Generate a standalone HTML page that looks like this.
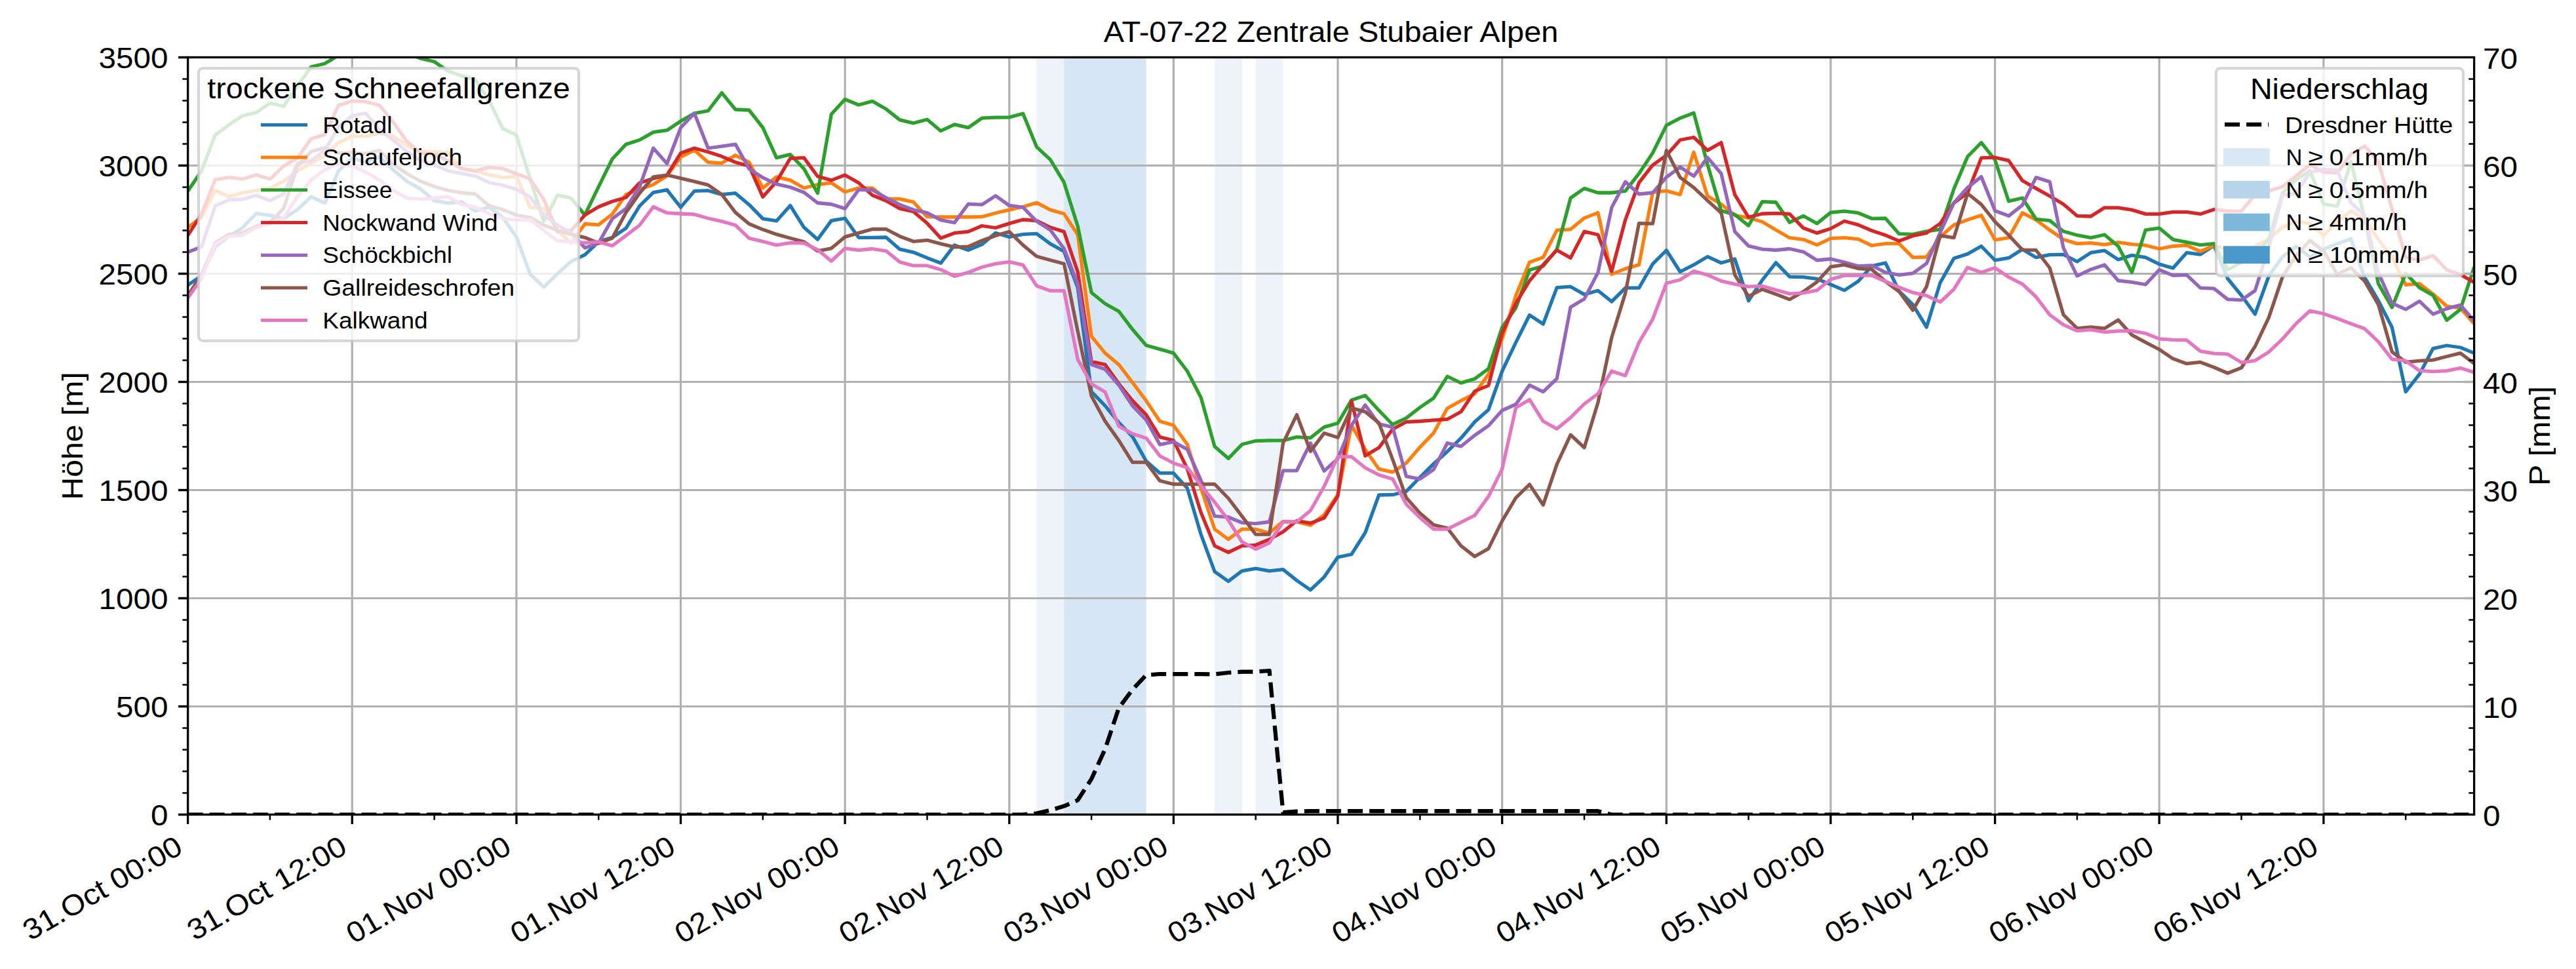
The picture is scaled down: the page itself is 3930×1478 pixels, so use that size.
<!DOCTYPE html>
<html><head><meta charset="utf-8"><title>chart</title><style>html,body{margin:0;padding:0;background:#fff}svg{display:block}</style></head><body>
<svg width="3930" height="1478" viewBox="0 0 3930 1478" font-family="'Liberation Sans', sans-serif">
<rect width="3930" height="1478" fill="#fff"/>
<defs><clipPath id="c"><rect x="286.6" y="87.45" width="3488.0" height="1155.0"/></clipPath></defs>
<rect x="1581.5" y="87.45" width="41.8" height="1155.0" fill="#eef3fa"/>
<rect x="1623.3" y="87.45" width="125.3" height="1155.0" fill="#d7e6f4"/>
<rect x="1853.1" y="87.45" width="41.8" height="1155.0" fill="#eef3fa"/>
<rect x="1915.7" y="87.45" width="41.8" height="1155.0" fill="#eef3fa"/>
<path d="M286.6 87.45V1242.45M537.2 87.45V1242.45M787.9 87.45V1242.45M1038.5 87.45V1242.45M1289.1 87.45V1242.45M1539.8 87.45V1242.45M1790.4 87.45V1242.45M2041.0 87.45V1242.45M2291.7 87.45V1242.45M2542.3 87.45V1242.45M2792.9 87.45V1242.45M3043.6 87.45V1242.45M3294.2 87.45V1242.45M3544.9 87.45V1242.45M286.6 1242.5H3774.6M286.6 1077.5H3774.6M286.6 912.5H3774.6M286.6 747.5H3774.6M286.6 582.5H3774.6M286.6 417.5H3774.6M286.6 252.5H3774.6M286.6 87.5H3774.6" stroke="#b0b0b0" stroke-width="3.2" fill="none"/>
<g clip-path="url(#c)" fill="none" stroke-width="5.3" stroke-linejoin="round" stroke-linecap="butt">
<polyline points="286.6,434.9 307.5,420.8 328.4,376.5 349.3,360.7 370.1,347.2 391.0,325.7 411.9,328.4 432.8,333.3 453.7,319.8 474.6,300.0 495.5,309.9 516.3,260.7 537.2,241.2 558.1,247.2 579.0,239.2 599.9,259.0 620.8,276.5 641.7,288.4 662.6,305.9 683.4,309.9 704.3,307.9 725.2,321.8 746.1,315.8 767.0,331.6 787.9,361.4 808.8,418.1 829.6,437.9 850.5,417.5 871.4,398.6 892.3,388.7 913.2,368.9 934.1,362.3 955.0,348.1 975.8,314.2 996.7,293.7 1017.6,289.7 1038.5,316.1 1059.4,291.4 1080.3,290.7 1101.2,296.7 1122.0,294.7 1142.9,312.2 1163.8,333.6 1184.7,336.9 1205.6,313.5 1226.5,346.8 1247.4,365.3 1268.3,336.6 1289.1,333.0 1310.0,362.3 1330.9,362.3 1351.8,362.0 1372.7,380.2 1393.6,384.8 1414.5,393.4 1435.3,401.3 1456.2,373.9 1477.1,381.5 1498.0,372.9 1518.9,355.4 1539.8,361.4 1560.7,357.4 1581.5,356.4 1602.4,371.9 1623.3,383.5 1644.2,438.6 1665.1,597.3 1686.0,618.8 1706.9,644.5 1727.7,665.9 1748.6,703.2 1769.5,721.7 1790.4,721.7 1811.3,744.5 1832.2,815.1 1853.1,871.9 1874.0,886.7 1894.8,870.9 1915.7,867.2 1936.6,870.9 1957.5,868.6 1978.4,885.4 1999.3,899.9 2020.2,880.1 2041.0,849.8 2061.9,845.5 2082.8,812.5 2103.7,755.0 2124.6,754.7 2145.5,749.4 2166.4,728.0 2187.2,707.5 2208.1,688.7 2229.0,668.2 2249.9,643.5 2270.8,625.0 2291.7,566.0 2312.6,522.4 2333.5,480.5 2354.3,494.3 2375.2,438.6 2396.1,437.2 2417.0,449.1 2437.9,443.2 2458.8,460.0 2479.7,439.2 2500.5,439.2 2521.4,402.6 2542.3,381.8 2563.2,414.5 2584.1,403.9 2605.0,391.4 2625.9,401.0 2646.7,395.0 2667.6,458.7 2688.5,427.4 2709.4,400.6 2730.3,422.1 2751.2,422.7 2772.1,425.4 2792.9,434.0 2813.8,442.9 2834.7,429.3 2855.6,405.9 2876.5,401.0 2897.4,444.2 2918.3,464.6 2939.2,499.0 2960.0,431.3 2980.9,394.0 3001.8,387.4 3022.7,375.5 3043.6,397.0 3064.5,393.4 3085.4,380.2 3106.2,392.7 3127.1,388.7 3148.0,388.1 3168.9,399.0 3189.8,385.4 3210.7,382.1 3231.6,396.0 3252.4,389.4 3273.3,392.7 3294.2,402.9 3315.1,408.9 3336.0,385.4 3356.9,388.1 3377.8,374.5 3398.6,425.0 3419.5,450.5 3440.4,479.2 3461.3,421.1 3482.2,391.7 3503.1,375.9 3524.0,392.0 3544.9,380.2 3565.7,371.9 3586.6,364.3 3607.5,423.1 3628.4,458.4 3649.3,499.3 3670.2,597.6 3691.1,570.9 3711.9,531.6 3732.8,527.0 3753.7,530.0 3774.6,538.6" stroke="#1f77b4"/>
<polyline points="286.6,346.8 307.5,331.6 328.4,290.4 349.3,300.0 370.1,294.0 391.0,290.4 411.9,287.4 432.8,276.5 453.7,260.7 474.6,249.1 495.5,237.3 516.3,217.8 537.2,207.9 558.1,207.9 579.0,203.0 599.9,207.9 620.8,221.8 641.7,231.3 662.6,231.3 683.4,232.6 704.3,257.1 725.2,260.7 746.1,266.6 767.0,270.6 787.9,269.0 808.8,316.1 829.6,318.1 850.5,351.5 871.4,370.9 892.3,341.5 913.2,342.9 934.1,326.7 955.0,296.7 975.8,288.8 996.7,281.5 1017.6,268.3 1038.5,239.6 1059.4,229.0 1080.3,247.5 1101.2,248.8 1122.0,236.9 1142.9,247.5 1163.8,286.8 1184.7,269.9 1205.6,274.9 1226.5,286.8 1247.4,281.5 1268.3,278.9 1289.1,292.7 1310.0,286.8 1330.9,286.8 1351.8,303.3 1372.7,303.3 1393.6,308.2 1414.5,330.7 1435.3,331.0 1456.2,331.0 1477.1,331.0 1498.0,330.7 1518.9,325.0 1539.8,320.1 1560.7,315.5 1581.5,309.2 1602.4,320.1 1623.3,326.0 1644.2,358.0 1665.1,512.8 1686.0,538.6 1706.9,556.1 1727.7,583.4 1748.6,611.2 1769.5,642.5 1790.4,648.8 1811.3,677.8 1832.2,744.5 1853.1,807.2 1874.0,822.7 1894.8,807.2 1915.7,807.2 1936.6,813.1 1957.5,795.3 1978.4,796.0 1999.3,801.2 2020.2,785.1 2041.0,754.7 2061.9,648.5 2082.8,685.4 2103.7,715.4 2124.6,720.1 2145.5,706.2 2166.4,682.1 2187.2,660.3 2208.1,622.7 2229.0,611.2 2249.9,600.6 2270.8,570.9 2291.7,516.8 2312.6,451.1 2333.5,400.0 2354.3,392.4 2375.2,351.1 2396.1,349.8 2417.0,332.6 2437.9,324.4 2458.8,418.4 2479.7,409.9 2500.5,403.9 2521.4,293.4 2542.3,291.1 2563.2,296.7 2584.1,232.3 2605.0,299.0 2625.9,311.5 2646.7,328.4 2667.6,332.3 2688.5,338.2 2709.4,350.8 2730.3,362.7 2751.2,365.3 2772.1,373.6 2792.9,363.7 2813.8,362.7 2834.7,364.6 2855.6,374.5 2876.5,371.6 2897.4,371.6 2918.3,392.7 2939.2,392.0 2960.0,361.4 2980.9,342.9 3001.8,335.3 3022.7,328.4 3043.6,366.0 3064.5,362.7 3085.4,324.7 3106.2,335.3 3127.1,350.8 3148.0,365.3 3168.9,371.6 3189.8,370.6 3210.7,373.2 3231.6,369.6 3252.4,372.6 3273.3,374.2 3294.2,379.5 3315.1,375.5 3336.0,374.2 3356.9,383.5 3377.8,374.5 3398.6,381.1 3419.5,383.8 3440.4,375.9 3461.3,364.6 3482.2,346.5 3503.1,337.3 3524.0,340.9 3544.9,359.0 3565.7,338.6 3586.6,321.8 3607.5,334.6 3628.4,365.0 3649.3,392.0 3670.2,434.3 3691.1,432.6 3711.9,448.5 3732.8,467.0 3753.7,469.9 3774.6,493.7" stroke="#ff7f0e"/>
<polyline points="286.6,291.4 307.5,260.7 328.4,205.9 349.3,190.4 370.1,176.5 391.0,171.6 411.9,157.1 432.8,162.0 453.7,131.3 474.6,102.0 495.5,97.0 516.3,84.5 537.2,74.2 558.1,67.7 579.0,67.7 599.9,71.0 620.8,80.8 641.7,89.1 662.6,94.0 683.4,108.6 704.3,115.8 725.2,121.8 746.1,153.1 767.0,196.0 787.9,206.2 808.8,272.9 829.6,337.6 850.5,297.7 871.4,302.3 892.3,328.0 913.2,284.8 934.1,242.5 955.0,220.1 975.8,213.5 996.7,201.6 1017.6,198.7 1038.5,184.8 1059.4,172.9 1080.3,169.0 1101.2,141.6 1122.0,167.0 1142.9,168.0 1163.8,194.7 1184.7,240.6 1205.6,235.6 1226.5,257.4 1247.4,294.7 1268.3,174.2 1289.1,151.5 1310.0,160.0 1330.9,154.4 1351.8,166.3 1372.7,182.8 1393.6,187.8 1414.5,182.2 1435.3,199.7 1456.2,189.8 1477.1,194.7 1498.0,180.2 1518.9,179.2 1539.8,178.9 1560.7,173.2 1581.5,224.1 1602.4,243.5 1623.3,278.2 1644.2,344.9 1665.1,446.2 1686.0,463.3 1706.9,474.9 1727.7,502.3 1748.6,526.7 1769.5,532.6 1790.4,538.6 1811.3,566.0 1832.2,606.2 1853.1,681.1 1874.0,699.3 1894.8,677.8 1915.7,672.5 1936.6,671.9 1957.5,671.9 1978.4,666.6 1999.3,667.9 2020.2,651.4 2041.0,645.5 2061.9,610.2 2082.8,603.2 2103.7,626.0 2124.6,647.5 2145.5,637.6 2166.4,621.4 2187.2,607.2 2208.1,574.2 2229.0,584.1 2249.9,577.8 2270.8,562.3 2291.7,499.3 2312.6,469.6 2333.5,411.8 2354.3,405.9 2375.2,380.5 2396.1,302.0 2417.0,287.4 2437.9,294.0 2458.8,294.0 2479.7,291.4 2500.5,264.7 2521.4,233.3 2542.3,191.1 2563.2,180.2 2584.1,172.3 2605.0,250.8 2625.9,321.4 2646.7,327.4 2667.6,344.2 2688.5,307.6 2709.4,308.5 2730.3,339.2 2751.2,329.3 2772.1,340.9 2792.9,324.1 2813.8,322.1 2834.7,324.7 2855.6,333.3 2876.5,333.0 2897.4,356.7 2918.3,357.4 2939.2,352.8 2960.0,349.8 2980.9,288.1 3001.8,238.9 3022.7,217.5 3043.6,243.9 3064.5,306.9 3085.4,302.0 3106.2,334.3 3127.1,336.3 3148.0,352.8 3168.9,358.7 3189.8,362.7 3210.7,358.0 3231.6,375.5 3252.4,415.5 3273.3,350.8 3294.2,347.8 3315.1,365.3 3336.0,369.3 3356.9,373.6 3377.8,371.6 3398.6,411.5 3419.5,400.0 3440.4,388.1 3461.3,365.3 3482.2,294.4 3503.1,274.2 3524.0,260.4 3544.9,311.2 3565.7,314.5 3586.6,246.2 3607.5,332.0 3628.4,432.6 3649.3,468.9 3670.2,417.1 3691.1,438.6 3711.9,450.5 3732.8,488.4 3753.7,471.9 3774.6,407.2" stroke="#2ca02c"/>
<polyline points="286.6,359.0 307.5,326.4 328.4,273.9 349.3,270.6 370.1,273.2 391.0,266.6 411.9,273.2 432.8,253.1 453.7,241.2 474.6,211.9 495.5,205.3 516.3,160.7 537.2,154.1 558.1,155.1 579.0,160.7 599.9,186.5 620.8,215.8 641.7,233.3 662.6,235.3 683.4,245.2 704.3,257.1 725.2,260.7 746.1,255.1 767.0,257.1 787.9,265.0 808.8,272.9 829.6,304.3 850.5,353.4 871.4,351.5 892.3,328.0 913.2,315.5 934.1,307.2 955.0,301.3 975.8,278.9 996.7,272.2 1017.6,267.0 1038.5,233.6 1059.4,226.0 1080.3,231.7 1101.2,238.6 1122.0,247.5 1142.9,253.4 1163.8,300.3 1184.7,276.9 1205.6,241.6 1226.5,240.6 1247.4,269.0 1268.3,274.9 1289.1,267.0 1310.0,278.9 1330.9,297.7 1351.8,306.2 1372.7,318.1 1393.6,322.7 1414.5,340.6 1435.3,363.3 1456.2,355.4 1477.1,353.4 1498.0,344.5 1518.9,347.5 1539.8,340.9 1560.7,335.0 1581.5,336.6 1602.4,346.8 1623.3,353.4 1644.2,414.5 1665.1,551.4 1686.0,556.1 1706.9,585.4 1727.7,611.2 1748.6,632.6 1769.5,666.6 1790.4,671.9 1811.3,714.8 1832.2,781.8 1853.1,832.6 1874.0,842.5 1894.8,832.6 1915.7,831.3 1936.6,822.7 1957.5,811.1 1978.4,794.3 1999.3,797.9 2020.2,790.0 2041.0,756.7 2061.9,612.1 2082.8,695.3 2103.7,682.8 2124.6,654.7 2145.5,643.5 2166.4,642.5 2187.2,640.9 2208.1,639.5 2229.0,628.0 2249.9,596.6 2270.8,588.1 2291.7,508.2 2312.6,462.7 2333.5,428.3 2354.3,403.9 2375.2,381.5 2396.1,393.4 2417.0,353.1 2437.9,358.0 2458.8,413.8 2479.7,335.3 2500.5,278.5 2521.4,251.8 2542.3,236.9 2563.2,213.5 2584.1,209.5 2605.0,229.4 2625.9,217.5 2646.7,297.0 2667.6,331.3 2688.5,326.0 2709.4,325.4 2730.3,326.4 2751.2,347.8 2772.1,355.4 2792.9,348.8 2813.8,337.3 2834.7,342.9 2855.6,351.8 2876.5,358.7 2897.4,367.6 2918.3,359.7 2939.2,355.4 2960.0,340.9 2980.9,309.5 3001.8,294.0 3022.7,240.9 3043.6,240.2 3064.5,244.9 3085.4,275.5 3106.2,287.4 3127.1,299.0 3148.0,311.5 3168.9,329.3 3189.8,330.0 3210.7,316.8 3231.6,316.8 3252.4,320.1 3273.3,326.4 3294.2,326.4 3315.1,323.4 3336.0,323.4 3356.9,326.4 3377.8,319.4 3398.6,321.8 3419.5,322.1 3440.4,296.7 3461.3,291.1 3482.2,284.8 3503.1,268.3 3524.0,251.1 3544.9,262.4 3565.7,263.7 3586.6,235.3 3607.5,222.8 3628.4,246.2 3649.3,318.5 3670.2,393.0 3691.1,396.7 3711.9,389.7 3732.8,411.5 3753.7,418.8 3774.6,430.6" stroke="#d62728"/>
<polyline points="286.6,384.5 307.5,376.5 328.4,313.8 349.3,304.9 370.1,303.9 391.0,298.0 411.9,305.9 432.8,296.0 453.7,249.1 474.6,245.2 495.5,229.4 516.3,194.0 537.2,176.5 558.1,172.6 579.0,198.0 599.9,213.8 620.8,231.3 641.7,245.2 662.6,251.1 683.4,260.7 704.3,264.7 725.2,268.6 746.1,278.5 767.0,282.5 787.9,288.8 808.8,300.3 829.6,328.0 850.5,343.5 871.4,355.4 892.3,377.9 913.2,370.9 934.1,333.6 955.0,318.1 975.8,284.8 996.7,226.0 1017.6,249.5 1038.5,194.7 1059.4,172.9 1080.3,226.0 1101.2,223.1 1122.0,220.1 1142.9,257.4 1163.8,270.9 1184.7,280.8 1205.6,285.5 1226.5,293.4 1247.4,309.5 1268.3,311.5 1289.1,318.1 1310.0,289.4 1330.9,289.7 1351.8,301.6 1372.7,312.2 1393.6,320.1 1414.5,324.7 1435.3,335.6 1456.2,339.6 1477.1,311.2 1498.0,312.2 1518.9,298.6 1539.8,313.5 1560.7,316.1 1581.5,337.6 1602.4,350.8 1623.3,379.2 1644.2,433.3 1665.1,556.1 1686.0,563.3 1706.9,587.4 1727.7,618.8 1748.6,640.5 1769.5,678.1 1790.4,673.9 1811.3,685.4 1832.2,732.6 1853.1,787.4 1874.0,788.7 1894.8,797.3 1915.7,798.6 1936.6,796.0 1957.5,717.8 1978.4,717.8 1999.3,675.8 2020.2,718.4 2041.0,699.6 2061.9,648.5 2082.8,617.8 2103.7,646.8 2124.6,651.4 2145.5,726.7 2166.4,730.6 2187.2,716.1 2208.1,675.8 2229.0,680.8 2249.9,664.0 2270.8,649.4 2291.7,626.0 2312.6,616.8 2333.5,587.4 2354.3,597.6 2375.2,577.5 2396.1,468.6 2417.0,456.1 2437.9,415.8 2458.8,316.5 2479.7,277.2 2500.5,296.0 2521.4,294.0 2542.3,270.3 2563.2,254.8 2584.1,268.6 2605.0,240.2 2625.9,264.7 2646.7,353.4 2667.6,375.2 2688.5,380.2 2709.4,381.5 2730.3,379.5 2751.2,384.1 2772.1,397.0 2792.9,395.0 2813.8,400.0 2834.7,405.9 2855.6,404.9 2876.5,415.5 2897.4,419.4 2918.3,416.8 2939.2,401.9 2960.0,354.8 2980.9,309.5 3001.8,286.1 3022.7,269.6 3043.6,321.4 3064.5,329.3 3085.4,312.8 3106.2,270.6 3127.1,277.2 3148.0,378.2 3168.9,420.8 3189.8,410.9 3210.7,403.9 3231.6,428.0 3252.4,430.3 3273.3,434.0 3294.2,411.5 3315.1,420.1 3336.0,419.4 3356.9,439.2 3377.8,440.2 3398.6,456.7 3419.5,457.7 3440.4,443.2 3461.3,377.2 3482.2,297.3 3503.1,295.0 3524.0,263.0 3544.9,258.4 3565.7,260.0 3586.6,309.2 3607.5,328.4 3628.4,415.8 3649.3,462.3 3670.2,471.9 3691.1,459.4 3711.9,479.2 3732.8,470.9 3753.7,465.3 3774.6,489.7" stroke="#9467bd"/>
<polyline points="286.6,451.1 307.5,419.1 328.4,370.6 349.3,357.1 370.1,355.1 391.0,345.2 411.9,339.2 432.8,317.8 453.7,253.1 474.6,231.3 495.5,225.4 516.3,233.3 537.2,232.6 558.1,234.3 579.0,229.4 599.9,251.1 620.8,264.7 641.7,276.5 662.6,284.5 683.4,290.4 704.3,294.0 725.2,296.0 746.1,313.8 767.0,319.8 787.9,328.0 808.8,331.6 829.6,343.5 850.5,351.5 871.4,357.4 892.3,362.3 913.2,370.9 934.1,363.3 955.0,324.1 975.8,294.7 996.7,269.9 1017.6,267.0 1038.5,271.9 1059.4,276.9 1080.3,282.1 1101.2,296.7 1122.0,324.1 1142.9,341.5 1163.8,350.1 1184.7,357.4 1205.6,363.3 1226.5,368.9 1247.4,382.8 1268.3,378.8 1289.1,361.4 1310.0,355.4 1330.9,349.5 1351.8,349.5 1372.7,360.4 1393.6,368.3 1414.5,366.3 1435.3,371.9 1456.2,376.9 1477.1,376.2 1498.0,367.0 1518.9,359.4 1539.8,353.4 1560.7,373.9 1581.5,391.0 1602.4,396.7 1623.3,402.3 1644.2,505.2 1665.1,603.9 1686.0,642.5 1706.9,671.9 1727.7,705.2 1748.6,705.2 1769.5,733.3 1790.4,738.5 1811.3,738.5 1832.2,738.5 1853.1,738.5 1874.0,760.0 1894.8,787.4 1915.7,815.1 1936.6,815.1 1957.5,675.8 1978.4,632.6 1999.3,688.4 2020.2,660.7 2041.0,667.3 2061.9,622.4 2082.8,628.0 2103.7,645.1 2124.6,700.6 2145.5,759.3 2166.4,782.8 2187.2,800.6 2208.1,805.5 2229.0,832.6 2249.9,848.8 2270.8,836.9 2291.7,794.6 2312.6,759.3 2333.5,738.9 2354.3,770.2 2375.2,708.2 2396.1,663.3 2417.0,682.8 2437.9,614.1 2458.8,514.8 2479.7,447.1 2500.5,340.6 2521.4,341.2 2542.3,229.4 2563.2,270.6 2584.1,286.1 2605.0,305.9 2625.9,324.7 2646.7,419.4 2667.6,452.1 2688.5,441.2 2709.4,448.8 2730.3,456.7 2751.2,444.8 2772.1,430.0 2792.9,406.9 2813.8,403.9 2834.7,409.5 2855.6,410.9 2876.5,429.3 2897.4,444.8 2918.3,473.2 2939.2,437.2 2960.0,359.4 2980.9,362.7 3001.8,295.0 3022.7,311.9 3043.6,338.2 3064.5,358.7 3085.4,381.1 3106.2,381.5 3127.1,408.5 3148.0,480.1 3168.9,500.9 3189.8,499.0 3210.7,500.9 3231.6,488.1 3252.4,510.8 3273.3,522.1 3294.2,533.0 3315.1,547.1 3336.0,554.7 3356.9,552.4 3377.8,560.3 3398.6,569.2 3419.5,561.0 3440.4,528.3 3461.3,484.4 3482.2,422.4 3503.1,389.7 3524.0,367.0 3544.9,382.5 3565.7,418.4 3586.6,408.5 3607.5,428.7 3628.4,464.3 3649.3,536.6 3670.2,552.4 3691.1,550.4 3711.9,549.1 3732.8,543.8 3753.7,538.6 3774.6,554.4" stroke="#8c564b"/>
<polyline points="286.6,454.4 307.5,425.0 328.4,372.6 349.3,360.7 370.1,358.7 391.0,347.2 411.9,341.2 432.8,331.6 453.7,300.0 474.6,274.6 495.5,259.0 516.3,249.1 537.2,253.1 558.1,262.7 579.0,274.6 599.9,290.4 620.8,302.0 641.7,303.9 662.6,302.0 683.4,300.0 704.3,311.9 725.2,315.8 746.1,325.7 767.0,333.3 787.9,335.6 808.8,335.0 829.6,351.5 850.5,367.3 871.4,368.9 892.3,370.3 913.2,368.9 934.1,374.9 955.0,359.4 975.8,343.5 996.7,315.5 1017.6,324.7 1038.5,326.0 1059.4,327.0 1080.3,333.0 1101.2,337.6 1122.0,343.5 1142.9,363.3 1163.8,368.3 1184.7,373.9 1205.6,370.3 1226.5,370.9 1247.4,380.8 1268.3,398.3 1289.1,378.8 1310.0,381.5 1330.9,379.5 1351.8,382.8 1372.7,399.6 1393.6,405.2 1414.5,405.2 1435.3,411.2 1456.2,421.4 1477.1,415.5 1498.0,407.5 1518.9,402.3 1539.8,399.3 1560.7,404.2 1581.5,435.9 1602.4,443.5 1623.3,443.5 1644.2,548.1 1665.1,585.4 1686.0,598.0 1706.9,650.1 1727.7,661.6 1748.6,668.2 1769.5,695.3 1790.4,706.5 1811.3,713.1 1832.2,740.5 1853.1,765.9 1874.0,793.3 1894.8,826.7 1915.7,837.5 1936.6,828.0 1957.5,796.0 1978.4,796.0 1999.3,778.8 2020.2,741.8 2041.0,696.6 2061.9,696.6 2082.8,713.5 2103.7,724.4 2124.6,730.6 2145.5,769.2 2166.4,789.7 2187.2,807.2 2208.1,807.2 2229.0,796.6 2249.9,786.1 2270.8,757.4 2291.7,715.4 2312.6,622.1 2333.5,609.5 2354.3,642.5 2375.2,654.1 2396.1,636.9 2417.0,616.1 2437.9,600.6 2458.8,566.0 2479.7,572.9 2500.5,522.4 2521.4,486.8 2542.3,432.0 2563.2,426.7 2584.1,413.5 2605.0,419.4 2625.9,428.7 2646.7,433.3 2667.6,437.2 2688.5,436.3 2709.4,442.2 2730.3,448.1 2751.2,446.8 2772.1,442.9 2792.9,426.0 2813.8,420.1 2834.7,420.1 2855.6,420.1 2876.5,429.3 2897.4,438.2 2918.3,446.2 2939.2,450.8 2960.0,460.7 2980.9,441.2 3001.8,407.9 3022.7,415.5 3043.6,408.5 3064.5,422.7 3085.4,433.3 3106.2,452.8 3127.1,480.1 3148.0,495.3 3168.9,504.6 3189.8,502.9 3210.7,506.5 3231.6,504.9 3252.4,504.6 3273.3,508.5 3294.2,516.8 3315.1,518.4 3336.0,518.8 3356.9,535.6 3377.8,539.2 3398.6,540.2 3419.5,552.8 3440.4,550.1 3461.3,536.9 3482.2,517.1 3503.1,493.4 3524.0,474.2 3544.9,478.5 3565.7,485.8 3586.6,493.7 3607.5,501.3 3628.4,521.1 3649.3,547.8 3670.2,550.4 3691.1,565.3 3711.9,566.6 3732.8,565.6 3753.7,561.3 3774.6,567.9" stroke="#e377c2"/>
</g>
<polyline clip-path="url(#c)" points="286.6,1242.5 307.5,1242.5 328.4,1242.5 349.3,1242.5 370.1,1242.5 391.0,1242.5 411.9,1242.5 432.8,1242.5 453.7,1242.5 474.6,1242.5 495.5,1242.5 516.3,1242.5 537.2,1242.5 558.1,1242.5 579.0,1242.5 599.9,1242.5 620.8,1242.5 641.7,1242.5 662.6,1242.5 683.4,1242.5 704.3,1242.5 725.2,1242.5 746.1,1242.5 767.0,1242.5 787.9,1242.5 808.8,1242.5 829.6,1242.5 850.5,1242.5 871.4,1242.5 892.3,1242.5 913.2,1242.5 934.1,1242.5 955.0,1242.5 975.8,1242.5 996.7,1242.5 1017.6,1242.5 1038.5,1242.5 1059.4,1242.5 1080.3,1242.5 1101.2,1242.5 1122.0,1242.5 1142.9,1242.5 1163.8,1242.5 1184.7,1242.5 1205.6,1242.5 1226.5,1242.5 1247.4,1242.5 1268.3,1242.5 1289.1,1242.5 1310.0,1242.5 1330.9,1242.5 1351.8,1242.5 1372.7,1242.5 1393.6,1242.5 1414.5,1242.5 1435.3,1242.5 1456.2,1242.5 1477.1,1242.5 1498.0,1242.5 1518.9,1242.5 1539.8,1242.5 1560.7,1242.5 1581.5,1240.5 1602.4,1235.9 1623.3,1229.6 1644.2,1220.5 1665.1,1188.3 1686.0,1142.5 1706.9,1079.8 1727.7,1051.9 1748.6,1029.6 1769.5,1028.0 1790.4,1028.0 1811.3,1028.0 1832.2,1028.0 1853.1,1028.4 1874.0,1026.0 1894.8,1024.7 1915.7,1024.7 1936.6,1023.0 1957.5,1239.2 1978.4,1237.7 1999.3,1237.2 2020.2,1237.2 2041.0,1237.2 2061.9,1237.2 2082.8,1237.2 2103.7,1237.2 2124.6,1237.2 2145.5,1237.2 2166.4,1237.2 2187.2,1237.2 2208.1,1237.2 2229.0,1237.2 2249.9,1237.2 2270.8,1237.2 2291.7,1237.2 2312.6,1237.2 2333.5,1237.2 2354.3,1237.2 2375.2,1237.2 2396.1,1237.2 2417.0,1237.2 2437.9,1237.2 2458.8,1242.5 2479.7,1242.5 2500.5,1242.5 2521.4,1242.5 2542.3,1242.5 2563.2,1242.5 2584.1,1242.5 2605.0,1242.5 2625.9,1242.5 2646.7,1242.5 2667.6,1242.5 2688.5,1242.5 2709.4,1242.5 2730.3,1242.5 2751.2,1242.5 2772.1,1242.5 2792.9,1242.5 2813.8,1242.5 2834.7,1242.5 2855.6,1242.5 2876.5,1242.5 2897.4,1242.5 2918.3,1242.5 2939.2,1242.5 2960.0,1242.5 2980.9,1242.5 3001.8,1242.5 3022.7,1242.5 3043.6,1242.5 3064.5,1242.5 3085.4,1242.5 3106.2,1242.5 3127.1,1242.5 3148.0,1242.5 3168.9,1242.5 3189.8,1242.5 3210.7,1242.5 3231.6,1242.5 3252.4,1242.5 3273.3,1242.5 3294.2,1242.5 3315.1,1242.5 3336.0,1242.5 3356.9,1242.5 3377.8,1242.5 3398.6,1242.5 3419.5,1242.5 3440.4,1242.5 3461.3,1242.5 3482.2,1242.5 3503.1,1242.5 3524.0,1242.5 3544.9,1242.5 3565.7,1242.5 3586.6,1242.5 3607.5,1242.5 3628.4,1242.5 3649.3,1242.5 3670.2,1242.5 3691.1,1242.5 3711.9,1242.5 3732.8,1242.5 3753.7,1242.5 3774.6,1242.5" stroke="#000" stroke-width="6.25" fill="none" stroke-dasharray="23.1 10" stroke-linejoin="round"/>
<path d="M3774.6 1077.5h-14.6M3774.6 912.5h-14.6M3774.6 747.5h-14.6M3774.6 582.5h-14.6M3774.6 417.5h-14.6M3774.6 252.5h-14.6" stroke="#b0b0b0" stroke-width="3.33" fill="none"/>
<path d="M286.6 1242.45v14.6M537.2 1242.45v14.6M787.9 1242.45v14.6M1038.5 1242.45v14.6M1289.1 1242.45v14.6M1539.8 1242.45v14.6M1790.4 1242.45v14.6M2041.0 1242.45v14.6M2291.7 1242.45v14.6M2542.3 1242.45v14.6M2792.9 1242.45v14.6M3043.6 1242.45v14.6M3294.2 1242.45v14.6M3544.9 1242.45v14.6M286.6 1242.5h-14.6M286.6 1077.5h-14.6M286.6 912.5h-14.6M286.6 747.5h-14.6M286.6 582.5h-14.6M286.6 417.5h-14.6M286.6 252.5h-14.6M286.6 87.5h-14.6" stroke="#000" stroke-width="3.33" fill="none"/>
<path d="M411.9 1242.45v8.3M662.6 1242.45v8.3M913.2 1242.45v8.3M1163.8 1242.45v8.3M1414.5 1242.45v8.3M1665.1 1242.45v8.3M1915.7 1242.45v8.3M2166.4 1242.45v8.3M2417.0 1242.45v8.3M2667.6 1242.45v8.3M2918.3 1242.45v8.3M3168.9 1242.45v8.3M3419.5 1242.45v8.3M3670.2 1242.45v8.3M286.6 1209.5h-8.3M286.6 1176.5h-8.3M286.6 1143.5h-8.3M286.6 1110.5h-8.3M286.6 1044.5h-8.3M286.6 1011.5h-8.3M286.6 978.5h-8.3M286.6 945.5h-8.3M286.6 879.5h-8.3M286.6 846.5h-8.3M286.6 813.5h-8.3M286.6 780.5h-8.3M286.6 714.5h-8.3M286.6 681.5h-8.3M286.6 648.5h-8.3M286.6 615.5h-8.3M286.6 549.5h-8.3M286.6 516.5h-8.3M286.6 483.5h-8.3M286.6 450.5h-8.3M286.6 384.5h-8.3M286.6 351.5h-8.3M286.6 318.5h-8.3M286.6 285.5h-8.3M286.6 219.5h-8.3M286.6 186.5h-8.3M286.6 153.5h-8.3M286.6 120.5h-8.3M3774.6 1209.5h-8.3M3774.6 1176.5h-8.3M3774.6 1143.5h-8.3M3774.6 1110.5h-8.3M3774.6 1044.5h-8.3M3774.6 1011.5h-8.3M3774.6 978.5h-8.3M3774.6 945.5h-8.3M3774.6 879.5h-8.3M3774.6 846.5h-8.3M3774.6 813.5h-8.3M3774.6 780.5h-8.3M3774.6 714.5h-8.3M3774.6 681.5h-8.3M3774.6 648.5h-8.3M3774.6 615.5h-8.3M3774.6 549.5h-8.3M3774.6 516.5h-8.3M3774.6 483.5h-8.3M3774.6 450.5h-8.3M3774.6 384.5h-8.3M3774.6 351.5h-8.3M3774.6 318.5h-8.3M3774.6 285.5h-8.3M3774.6 219.5h-8.3M3774.6 186.5h-8.3M3774.6 153.5h-8.3M3774.6 120.5h-8.3" stroke="#000" stroke-width="2.5" fill="none"/>
<rect x="286.6" y="87.45" width="3488.0" height="1155.0" fill="none" stroke="#000" stroke-width="3.33"/>
<text x="256.5" y="1259.2" font-size="44.17" text-anchor="end" textLength="26.5" lengthAdjust="spacingAndGlyphs" fill="#000">0</text>
<text x="256.5" y="1094.2" font-size="44.17" text-anchor="end" textLength="79.5" lengthAdjust="spacingAndGlyphs" fill="#000">500</text>
<text x="256.5" y="929.2" font-size="44.17" text-anchor="end" textLength="106.0" lengthAdjust="spacingAndGlyphs" fill="#000">1000</text>
<text x="256.5" y="764.2" font-size="44.17" text-anchor="end" textLength="106.0" lengthAdjust="spacingAndGlyphs" fill="#000">1500</text>
<text x="256.5" y="599.2" font-size="44.17" text-anchor="end" textLength="106.0" lengthAdjust="spacingAndGlyphs" fill="#000">2000</text>
<text x="256.5" y="434.3" font-size="44.17" text-anchor="end" textLength="106.0" lengthAdjust="spacingAndGlyphs" fill="#000">2500</text>
<text x="256.5" y="269.3" font-size="44.17" text-anchor="end" textLength="106.0" lengthAdjust="spacingAndGlyphs" fill="#000">3000</text>
<text x="256.5" y="104.3" font-size="44.17" text-anchor="end" textLength="106.0" lengthAdjust="spacingAndGlyphs" fill="#000">3500</text>
<text x="3788.1" y="1259.5" font-size="44.17" text-anchor="start" textLength="26.5" lengthAdjust="spacingAndGlyphs" fill="#000">0</text>
<text x="3788.1" y="1094.5" font-size="44.17" text-anchor="start" textLength="53.0" lengthAdjust="spacingAndGlyphs" fill="#000">10</text>
<text x="3788.1" y="929.6" font-size="44.17" text-anchor="start" textLength="53.0" lengthAdjust="spacingAndGlyphs" fill="#000">20</text>
<text x="3788.1" y="764.6" font-size="44.17" text-anchor="start" textLength="53.0" lengthAdjust="spacingAndGlyphs" fill="#000">30</text>
<text x="3788.1" y="599.6" font-size="44.17" text-anchor="start" textLength="53.0" lengthAdjust="spacingAndGlyphs" fill="#000">40</text>
<text x="3788.1" y="434.6" font-size="44.17" text-anchor="start" textLength="53.0" lengthAdjust="spacingAndGlyphs" fill="#000">50</text>
<text x="3788.1" y="269.6" font-size="44.17" text-anchor="start" textLength="53.0" lengthAdjust="spacingAndGlyphs" fill="#000">60</text>
<text x="3788.1" y="104.6" font-size="44.17" text-anchor="start" textLength="53.0" lengthAdjust="spacingAndGlyphs" fill="#000">70</text>
<text transform="translate(281.4,1299.7) rotate(-30)" font-size="44.17" text-anchor="end" textLength="271.7" lengthAdjust="spacingAndGlyphs" fill="#000">31.Oct 00:00</text>
<text transform="translate(532.0,1299.7) rotate(-30)" font-size="44.17" text-anchor="end" textLength="271.7" lengthAdjust="spacingAndGlyphs" fill="#000">31.Oct 12:00</text>
<text transform="translate(782.7,1299.7) rotate(-30)" font-size="44.17" text-anchor="end" textLength="280.9" lengthAdjust="spacingAndGlyphs" fill="#000">01.Nov 00:00</text>
<text transform="translate(1033.3,1299.7) rotate(-30)" font-size="44.17" text-anchor="end" textLength="280.9" lengthAdjust="spacingAndGlyphs" fill="#000">01.Nov 12:00</text>
<text transform="translate(1283.9,1299.7) rotate(-30)" font-size="44.17" text-anchor="end" textLength="280.9" lengthAdjust="spacingAndGlyphs" fill="#000">02.Nov 00:00</text>
<text transform="translate(1534.6,1299.7) rotate(-30)" font-size="44.17" text-anchor="end" textLength="280.9" lengthAdjust="spacingAndGlyphs" fill="#000">02.Nov 12:00</text>
<text transform="translate(1785.2,1299.7) rotate(-30)" font-size="44.17" text-anchor="end" textLength="280.9" lengthAdjust="spacingAndGlyphs" fill="#000">03.Nov 00:00</text>
<text transform="translate(2035.8,1299.7) rotate(-30)" font-size="44.17" text-anchor="end" textLength="280.9" lengthAdjust="spacingAndGlyphs" fill="#000">03.Nov 12:00</text>
<text transform="translate(2286.5,1299.7) rotate(-30)" font-size="44.17" text-anchor="end" textLength="280.9" lengthAdjust="spacingAndGlyphs" fill="#000">04.Nov 00:00</text>
<text transform="translate(2537.1,1299.7) rotate(-30)" font-size="44.17" text-anchor="end" textLength="280.9" lengthAdjust="spacingAndGlyphs" fill="#000">04.Nov 12:00</text>
<text transform="translate(2787.7,1299.7) rotate(-30)" font-size="44.17" text-anchor="end" textLength="280.9" lengthAdjust="spacingAndGlyphs" fill="#000">05.Nov 00:00</text>
<text transform="translate(3038.4,1299.7) rotate(-30)" font-size="44.17" text-anchor="end" textLength="280.9" lengthAdjust="spacingAndGlyphs" fill="#000">05.Nov 12:00</text>
<text transform="translate(3289.0,1299.7) rotate(-30)" font-size="44.17" text-anchor="end" textLength="280.9" lengthAdjust="spacingAndGlyphs" fill="#000">06.Nov 00:00</text>
<text transform="translate(3539.7,1299.7) rotate(-30)" font-size="44.17" text-anchor="end" textLength="280.9" lengthAdjust="spacingAndGlyphs" fill="#000">06.Nov 12:00</text>
<text transform="translate(125.5,665.0) rotate(-90)" font-size="44.17" text-anchor="middle" textLength="195.2" lengthAdjust="spacingAndGlyphs" fill="#000">Höhe [m]</text>
<text transform="translate(3890.2,665.0) rotate(-90)" font-size="44.17" text-anchor="middle" textLength="152.1" lengthAdjust="spacingAndGlyphs" fill="#000">P [mm]</text>
<text x="2030.6" y="63.9" font-size="44.17" text-anchor="middle" textLength="693.7" lengthAdjust="spacingAndGlyphs" fill="#000">AT-07-22 Zentrale Stubaier Alpen</text>
<rect x="303.0" y="104.05" width="580.0" height="415.74999999999994" rx="6.5" ry="6.5" fill="#fff" fill-opacity="0.8" stroke="#ccc" stroke-opacity="0.8" stroke-width="4.17"/>
<text x="593.0" y="150.0" font-size="44.17" text-anchor="middle" textLength="553.6" lengthAdjust="spacingAndGlyphs" fill="#000">trockene Schneefallgrenze</text>
<path d="M398 190.4H469" stroke="#1f77b4" stroke-width="5.0"/>
<text x="492.3" y="202.6" font-size="35.33" text-anchor="start" textLength="106.0" lengthAdjust="spacingAndGlyphs" fill="#000">Rotadl</text>
<path d="M398 240.1H469" stroke="#ff7f0e" stroke-width="5.0"/>
<text x="492.3" y="252.3" font-size="35.33" text-anchor="start" textLength="212.8" lengthAdjust="spacingAndGlyphs" fill="#000">Schaufeljoch</text>
<path d="M398 289.8H469" stroke="#2ca02c" stroke-width="5.0"/>
<text x="492.3" y="302.0" font-size="35.33" text-anchor="start" textLength="106.1" lengthAdjust="spacingAndGlyphs" fill="#000">Eissee</text>
<path d="M398 339.5H469" stroke="#d62728" stroke-width="5.0"/>
<text x="492.3" y="351.7" font-size="35.33" text-anchor="start" textLength="267.3" lengthAdjust="spacingAndGlyphs" fill="#000">Nockwand Wind</text>
<path d="M398 389.2H469" stroke="#9467bd" stroke-width="5.0"/>
<text x="492.3" y="401.4" font-size="35.33" text-anchor="start" textLength="197.8" lengthAdjust="spacingAndGlyphs" fill="#000">Schöckbichl</text>
<path d="M398 438.9H469" stroke="#8c564b" stroke-width="5.0"/>
<text x="492.3" y="451.1" font-size="35.33" text-anchor="start" textLength="292.7" lengthAdjust="spacingAndGlyphs" fill="#000">Gallreideschrofen</text>
<path d="M398 488.6H469" stroke="#e377c2" stroke-width="5.0"/>
<text x="492.3" y="500.8" font-size="35.33" text-anchor="start" textLength="160.2" lengthAdjust="spacingAndGlyphs" fill="#000">Kalkwand</text>
<rect x="3381.0" y="104.05" width="376.9000000000001" height="316.75" rx="6.5" ry="6.5" fill="#fff" fill-opacity="0.8" stroke="#ccc" stroke-opacity="0.8" stroke-width="4.17"/>
<text x="3569.0" y="150.5" font-size="44.17" text-anchor="middle" textLength="272.2" lengthAdjust="spacingAndGlyphs" fill="#000">Niederschlag</text>
<path d="M3394 189.9H3461.2" stroke="#000" stroke-width="6.25" stroke-dasharray="23.1 10"/>
<text x="3486.0" y="203.2" font-size="35.33" text-anchor="start" textLength="256.4" lengthAdjust="spacingAndGlyphs" fill="#000">Dresdner Hütte</text>
<rect x="3392" y="226.2" width="70.8" height="26.8" fill="#d9e8f5"/>
<text x="3487.5" y="251.6" font-size="35.33" text-anchor="start" textLength="24.9" lengthAdjust="spacingAndGlyphs" fill="#000">N</text>
<text x="3521.5" y="251.6" font-size="35.33" text-anchor="start" textLength="22.6" lengthAdjust="spacingAndGlyphs" fill="#000">≥</text>
<text x="3553.7" y="251.6" font-size="35.33" text-anchor="start" textLength="150.3" lengthAdjust="spacingAndGlyphs" fill="#000">0.1mm/h</text>
<rect x="3392" y="275.9" width="70.8" height="26.8" fill="#b7d4ea"/>
<text x="3487.5" y="301.5" font-size="35.33" text-anchor="start" textLength="24.9" lengthAdjust="spacingAndGlyphs" fill="#000">N</text>
<text x="3521.5" y="301.5" font-size="35.33" text-anchor="start" textLength="22.6" lengthAdjust="spacingAndGlyphs" fill="#000">≥</text>
<text x="3553.7" y="301.5" font-size="35.33" text-anchor="start" textLength="150.3" lengthAdjust="spacingAndGlyphs" fill="#000">0.5mm/h</text>
<rect x="3392" y="325.6" width="70.8" height="26.8" fill="#7eb8da"/>
<text x="3487.5" y="351.4" font-size="35.33" text-anchor="start" textLength="24.9" lengthAdjust="spacingAndGlyphs" fill="#000">N</text>
<text x="3521.5" y="351.4" font-size="35.33" text-anchor="start" textLength="22.6" lengthAdjust="spacingAndGlyphs" fill="#000">≥</text>
<text x="3553.7" y="351.4" font-size="35.33" text-anchor="start" textLength="118.5" lengthAdjust="spacingAndGlyphs" fill="#000">4mm/h</text>
<rect x="3392" y="375.3" width="70.8" height="26.8" fill="#4a98c9"/>
<text x="3487.5" y="401.3" font-size="35.33" text-anchor="start" textLength="24.9" lengthAdjust="spacingAndGlyphs" fill="#000">N</text>
<text x="3521.5" y="401.3" font-size="35.33" text-anchor="start" textLength="22.6" lengthAdjust="spacingAndGlyphs" fill="#000">≥</text>
<text x="3553.7" y="401.3" font-size="35.33" text-anchor="start" textLength="139.7" lengthAdjust="spacingAndGlyphs" fill="#000">10mm/h</text>
</svg>
</body></html>
